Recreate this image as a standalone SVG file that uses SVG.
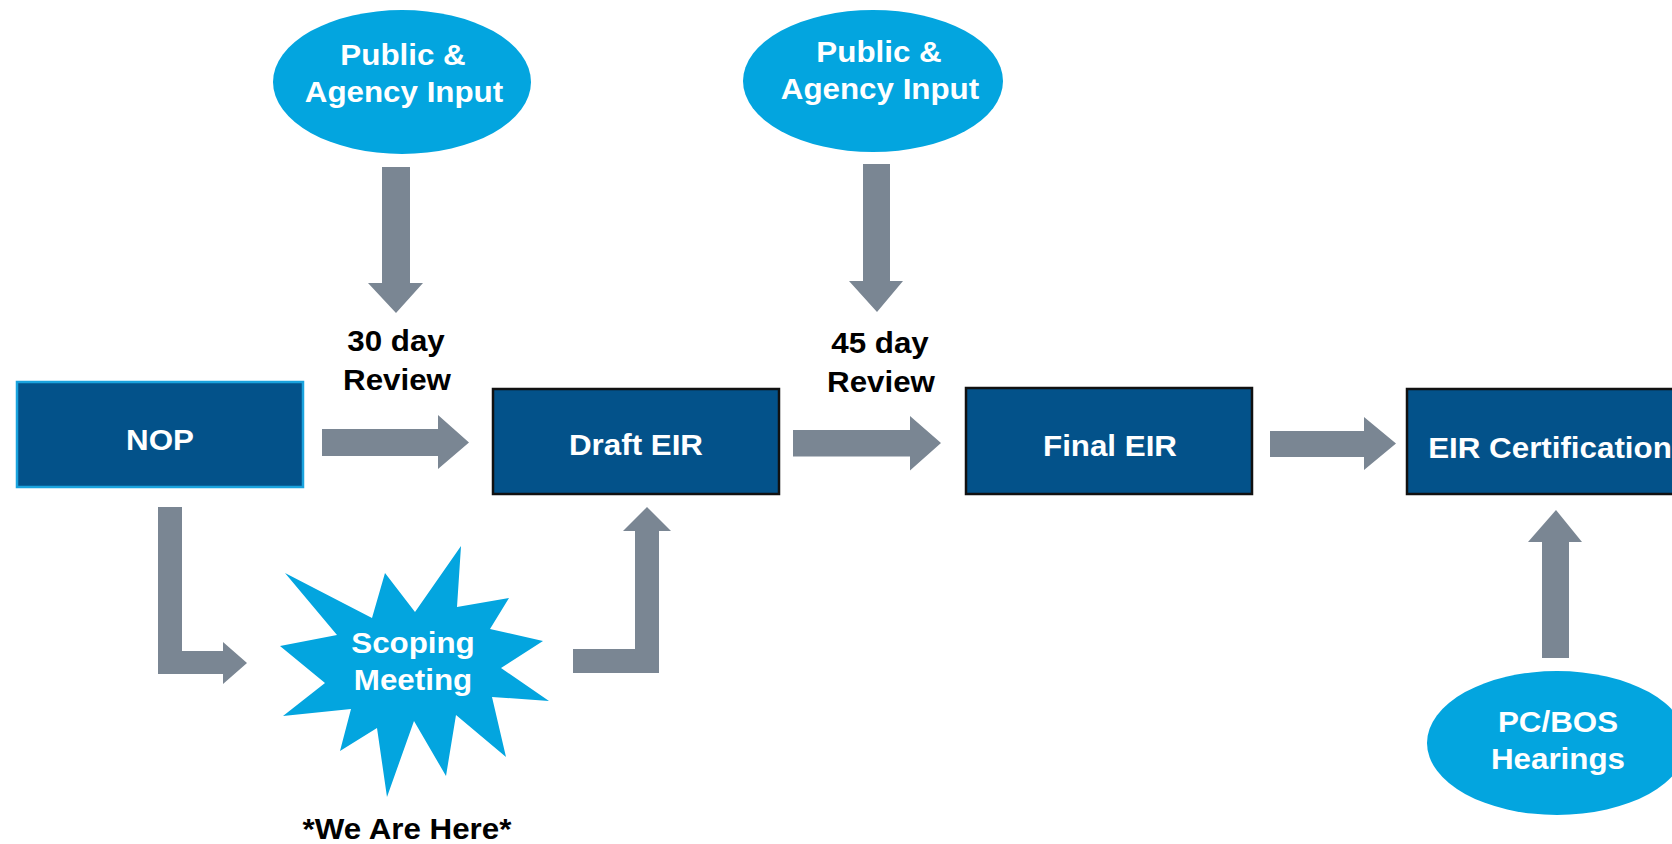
<svg xmlns="http://www.w3.org/2000/svg" width="1672" height="844" viewBox="0 0 1672 844">
<style>
.box{fill:#03528A;stroke:#111;stroke-width:2.5}
.nop{fill:#03528A;stroke:#1AA3DE;stroke-width:2.5}
.ell{fill:#03A5DF}
.arr{fill:#7A8693}
.t{font-family:"Liberation Sans",Arial,sans-serif;font-weight:bold;font-size:29px;text-anchor:middle;transform-box:fill-box;transform-origin:center;transform:scaleX(1.08)}
.w{fill:#fff}
.k{fill:#000}
</style>
<rect width="1672" height="844" fill="#fff"/>
<g id="connectors">
<polygon class="arr" points="322,429 438,429 438,415 469,442.5 438,469 438,456 322,456"/>
<polygon class="arr" points="793,430 910,430 910,416 941,443 910,470.5 910,456.5 793,456.5"/>
<polygon class="arr" points="1270,431 1364,431 1364,417 1396,443.5 1364,470 1364,457 1270,457"/>
<polygon class="arr" points="382,167 410,167 410,283 423,283 396,313 368,283 382,283"/>
<polygon class="arr" points="863,164 890,164 890,281 903,281 877,312 849,281 863,281"/>
<polygon class="arr" points="1542,658 1569,658 1569,542 1582,542 1556,510 1528,542 1542,542"/>
<polygon class="arr" points="158,507 182,507 182,651 223,651 223,642 247,663 223,684 223,674 158,674"/>
<polygon class="arr" points="573,649 635,649 635,531 623,531 647,507 671,531 659,531 659,673 573,673"/>
</g>
<g id="nop">
<rect class="nop" x="17" y="382" width="286" height="105"/>
<text class="t w" x="160" y="450">NOP</text>
</g>
<g id="draft-eir">
<rect class="box" x="493" y="389" width="286" height="105"/>
<text class="t w" x="636" y="455">Draft EIR</text>
</g>
<g id="final-eir">
<rect class="box" x="966" y="388" width="286" height="106"/>
<text class="t w" x="1110" y="456">Final EIR</text>
</g>
<g id="eir-cert">
<rect class="box" x="1407" y="389" width="286" height="105"/>
<text class="t w" x="1550" y="458">EIR Certification</text>
</g>
<g id="input1">
<ellipse class="ell" cx="402" cy="82" rx="129" ry="72"/>
<text class="t w" x="403" y="65">Public &amp;</text>
<text class="t w" x="404" y="102">Agency Input</text>
</g>
<g id="input2">
<ellipse class="ell" cx="873" cy="81" rx="130" ry="71"/>
<text class="t w" x="879" y="62">Public &amp;</text>
<text class="t w" x="880" y="99">Agency Input</text>
</g>
<g id="pcbos">
<ellipse class="ell" cx="1557" cy="743" rx="130" ry="72"/>
<text class="t w" x="1558" y="732">PC/BOS</text>
<text class="t w" x="1558" y="769">Hearings</text>
</g>
<g id="scoping">
<polygon class="ell" points="461,546 457,607 509,598 490,629 543,641 501,668 549,701 492,697 506,757 456,715 446,776 414,721 387,797 377,728 340,751 351,709 283,716 325,683 280,646 337,635 285,573 372,618 385,573 415,612"/>
<text class="t w" x="413" y="653">Scoping</text>
<text class="t w" x="413" y="690">Meeting</text>
</g>
<g id="labels">
<text class="t k" x="396" y="351">30 day</text>
<text class="t k" x="397" y="390">Review</text>
<text class="t k" x="880" y="353">45 day</text>
<text class="t k" x="881" y="392">Review</text>
<text class="t k" x="407" y="839">*We Are Here*</text>
</g>
</svg>
